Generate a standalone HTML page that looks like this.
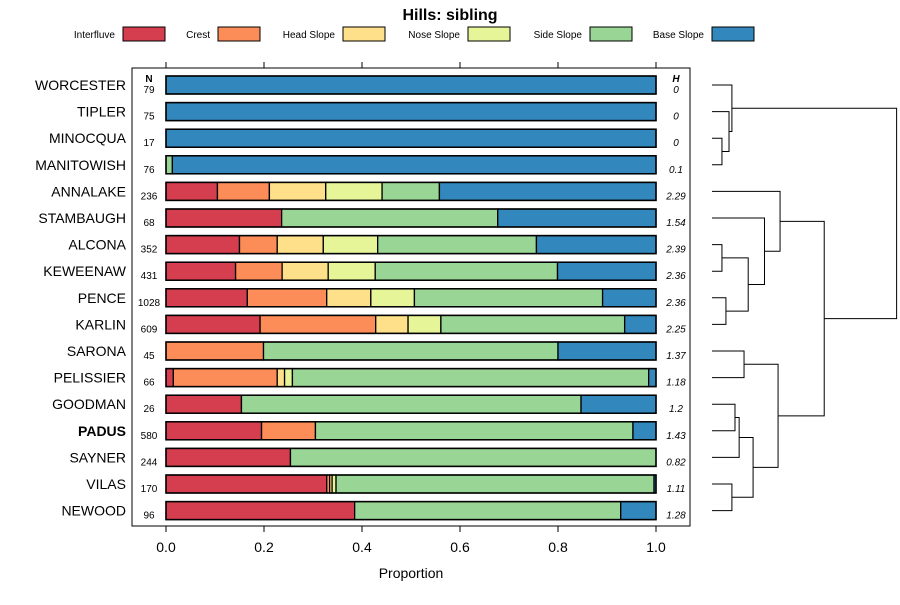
<!DOCTYPE html>
<html><head><meta charset="utf-8"><style>
body{margin:0;background:#fff;}
svg{font-family:"Liberation Sans",sans-serif;}
</style></head><body>
<svg id="chart" width="900" height="600" xmlns="http://www.w3.org/2000/svg">
<text x="450" y="20" text-anchor="middle" font-size="16" font-weight="bold">Hills: sibling</text>
<g id="legend"></g>
<rect x="132" y="68" width="558" height="458" fill="none" stroke="#000" stroke-width="1"/>
<text x="149" y="82" text-anchor="middle" font-size="10" font-weight="bold">N</text>
<text x="676" y="82" text-anchor="middle" font-size="10" font-weight="bold" font-style="italic">H</text>
<g id="bars"></g>
<g id="axis"></g>
<text x="411" y="578" text-anchor="middle" font-size="14">Proportion</text>
<g id="dendro"></g>
</svg>
<script>
const categories=["Interfluve","Crest","Head Slope","Nose Slope","Side Slope","Base Slope"];
const colors=["#D53E4F","#FC8D59","#FEE08B","#E6F598","#99D594","#3288BD"];
const series=["WORCESTER","TIPLER","MINOCQUA","MANITOWISH","ANNALAKE","STAMBAUGH","ALCONA","KEWEENAW","PENCE","KARLIN","SARONA","PELISSIER","GOODMAN","PADUS","SAYNER","VILAS","NEWOOD"];
const nValues=[79,75,17,76,236,68,352,431,1028,609,45,66,26,580,244,170,96];
const hValues=["0","0","0","0.1","2.29","1.54","2.39","2.36","2.36","2.25","1.37","1.18","1.2","1.43","0.82","1.11","1.28"];
const proportions=[
[0,0,0,0,0,1],
[0,0,0,0,0,1],
[0,0,0,0,0,1],
[0,0,0,0,0.013,0.987],
[0.105,0.106,0.115,0.115,0.117,0.442],
[0.236,0,0,0,0.441,0.323],
[0.150,0.077,0.094,0.111,0.324,0.244],
[0.142,0.095,0.094,0.096,0.372,0.201],
[0.166,0.162,0.090,0.089,0.384,0.109],
[0.192,0.236,0.066,0.067,0.375,0.064],
[0,0.199,0,0,0.601,0.200],
[0.015,0.212,0.015,0.016,0.727,0.015],
[0.154,0,0,0,0.693,0.153],
[0.195,0.110,0,0,0.648,0.047],
[0.254,0,0,0,0.746,0],
[0.328,0.006,0.005,0.008,0.649,0.004],
[0.385,0,0,0,0.543,0.072]];
const xTicks=[0,0.2,0.4,0.6,0.8,1.0];
const xTickLabels=["0.0","0.2","0.4","0.6","0.8","1.0"];
// dendrogram merges: [leftNode, rightNode, height]; negative = leaf index (-(i+1)), positive = merge index+1
const merges=[
[-3,-4,0.055],[-2,1,0.094],[-1,2,0.11],
[-7,-8,0.055],[-9,-10,0.077],[4,5,0.2],[-6,6,0.29],[-5,7,0.376],
[-11,-12,0.177],[-13,-14,0.127],[10,-15,0.15],[-16,-17,0.11],[11,12,0.227],[9,13,0.365],
[8,14,0.62],[3,15,1.02]];

const NS="http://www.w3.org/2000/svg";
function mk(tag,attrs,parent){const e=document.createElementNS(NS,tag);for(const k in attrs)e.setAttribute(k,attrs[k]);parent.appendChild(e);return e;}
const x0=166,x1=656;
const xs=v=>x0+(x1-x0)*v;
const rowY=i=>85+i*26.6;

// legend
const leg=document.getElementById('legend');
const legBoxX=[123,218,343,468,590,712];
categories.forEach((c,i)=>{
  const t=mk('text',{x:legBoxX[i]-8,y:38,'text-anchor':'end','font-size':10},leg);t.textContent=c;
  
  
  const r=mk('rect',{x:legBoxX[i],y:27,width:42,height:14,fill:colors[i],stroke:'#000','stroke-width':1},leg);
  
  
});

// bars
const bars=document.getElementById('bars');
series.forEach((s,i)=>{
  const y=rowY(i);
  const lab=mk('text',{x:126,y:y+5,'text-anchor':'end','font-size':14,'font-weight':s==="PADUS"?'bold':'normal'},bars);
  lab.textContent=s;
  
  
  const n=mk('text',{x:149,y:y+8,'text-anchor':'middle','font-size':10},bars);n.textContent=nValues[i];
  
  
  const h=mk('text',{x:676,y:y+8,'text-anchor':'middle','font-size':10,'font-style':'italic'},bars);h.textContent=hValues[i];
  
  
  let cum=0;
  proportions[i].forEach((p,j)=>{
    if(p<=0)return;
    const r=mk('rect',{x:xs(cum),y:y-9,width:xs(cum+p)-xs(cum),height:18,fill:colors[j],stroke:'#000','stroke-width':1.3},bars);
    
    
    cum+=p;
  });
  const o=mk('rect',{x:xs(0),y:y-9,width:xs(1)-xs(0),height:18,fill:'none',stroke:'#000','stroke-width':1.5},bars);
  
  
});

// axis
const ax=document.getElementById('axis');
xTicks.forEach((v,i)=>{
  const tb=mk('line',{x1:xs(v),x2:xs(v),y1:526,y2:532,stroke:'#000'},ax);
  
  
  const tt=mk('line',{x1:xs(v),x2:xs(v),y1:62,y2:68,stroke:'#000'},ax);
  
  
  const l=mk('text',{x:xs(v),y:552,'text-anchor':'middle','font-size':14},ax);l.textContent=xTickLabels[i];
  
  
});

// dendrogram
const dg=document.getElementById('dendro');
const dx0=712,dx1=893;
const dxs=h=>dx0+(dx1-dx0)*h;
const nodeY=[],nodeH=[];
function pos(id){return id<0?[rowY(-id-1),0]:[nodeY[id-1],nodeH[id-1]];}
merges.forEach((m,k)=>{
  const [ya,ha]=pos(m[0]),[yb,hb]=pos(m[1]);
  const hx=dxs(m[2]);
  const p=mk('path',{d:`M${dxs(ha)},${ya}H${hx}V${yb}H${dxs(hb)}`,fill:'none',stroke:'#000','stroke-width':1},dg);
  
  
  nodeY.push((ya+yb)/2);nodeH.push(m[2]);
});
</script>
</body></html>
